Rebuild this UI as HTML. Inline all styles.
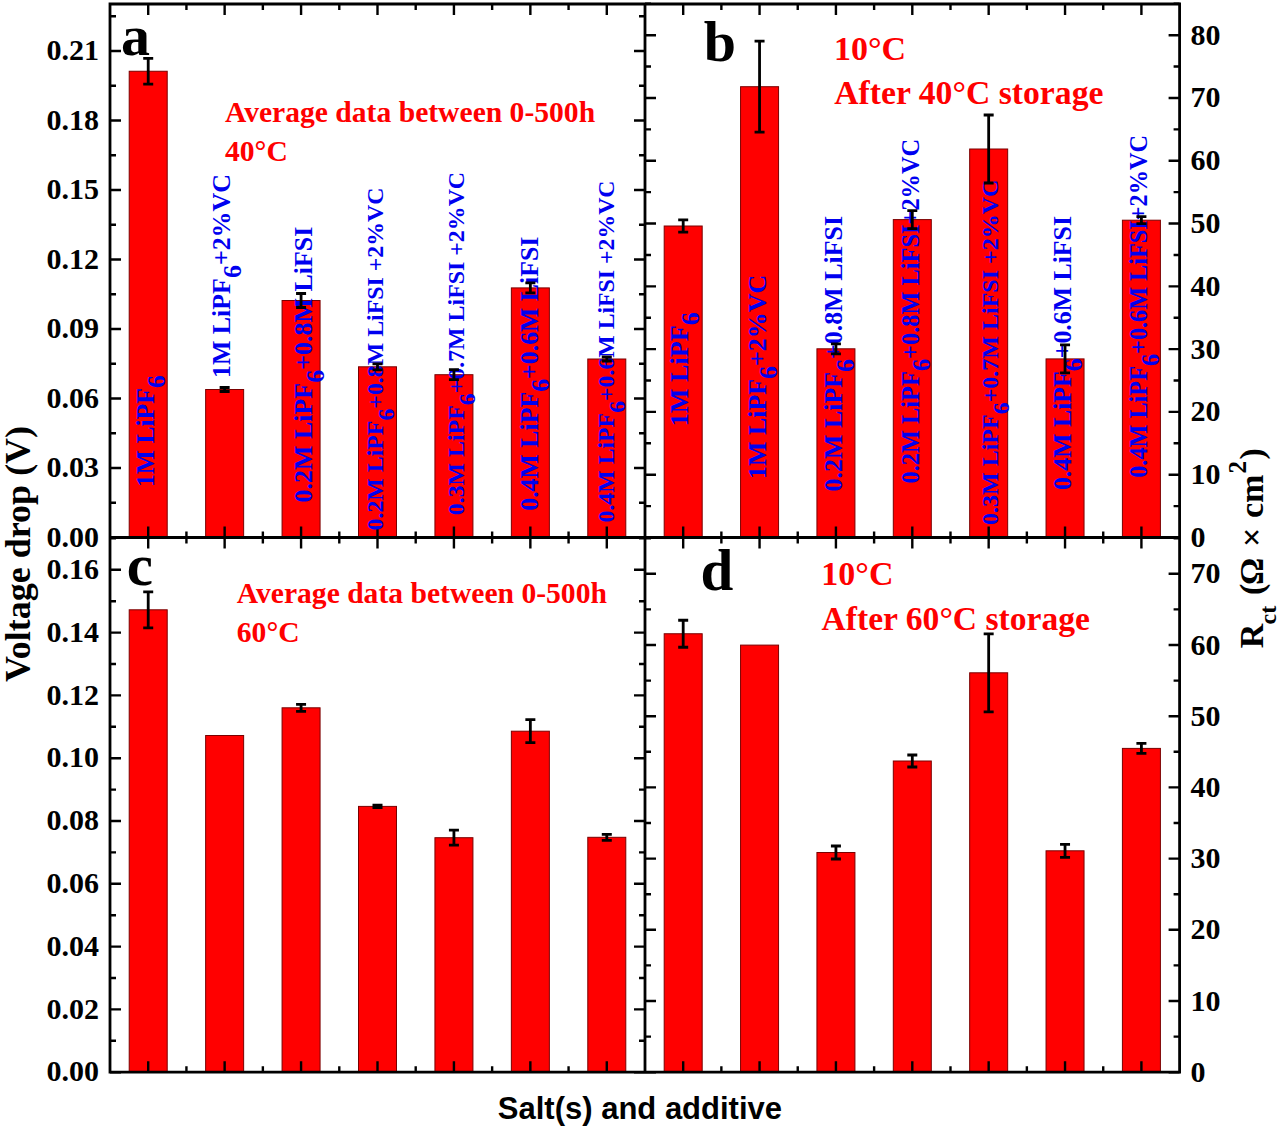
<!DOCTYPE html>
<html><head><meta charset="utf-8"><style>
html,body{margin:0;padding:0;background:#fff;}
svg{display:block;}
</style></head><body>
<svg width="1280" height="1130" viewBox="0 0 1280 1130">
<rect width="1280" height="1130" fill="#fff"/>
<rect x="129.21" y="71.25" width="38.00" height="466.25" fill="#ff0000" stroke="#7a0000" stroke-width="1"/>
<rect x="205.64" y="389.50" width="38.00" height="148.00" fill="#ff0000" stroke="#7a0000" stroke-width="1"/>
<rect x="282.07" y="300.50" width="38.00" height="237.00" fill="#ff0000" stroke="#7a0000" stroke-width="1"/>
<rect x="358.50" y="366.80" width="38.00" height="170.70" fill="#ff0000" stroke="#7a0000" stroke-width="1"/>
<rect x="434.93" y="374.70" width="38.00" height="162.80" fill="#ff0000" stroke="#7a0000" stroke-width="1"/>
<rect x="511.36" y="287.90" width="38.00" height="249.60" fill="#ff0000" stroke="#7a0000" stroke-width="1"/>
<rect x="587.79" y="359.00" width="38.00" height="178.50" fill="#ff0000" stroke="#7a0000" stroke-width="1"/>
<rect x="664.19" y="226.00" width="38.00" height="311.50" fill="#ff0000" stroke="#7a0000" stroke-width="1"/>
<rect x="740.56" y="86.70" width="38.00" height="450.80" fill="#ff0000" stroke="#7a0000" stroke-width="1"/>
<rect x="816.93" y="348.80" width="38.00" height="188.70" fill="#ff0000" stroke="#7a0000" stroke-width="1"/>
<rect x="893.30" y="219.60" width="38.00" height="317.90" fill="#ff0000" stroke="#7a0000" stroke-width="1"/>
<rect x="969.67" y="149.00" width="38.00" height="388.50" fill="#ff0000" stroke="#7a0000" stroke-width="1"/>
<rect x="1046.04" y="358.90" width="38.00" height="178.60" fill="#ff0000" stroke="#7a0000" stroke-width="1"/>
<rect x="1122.41" y="220.20" width="38.00" height="317.30" fill="#ff0000" stroke="#7a0000" stroke-width="1"/>
<rect x="129.21" y="609.80" width="38.00" height="462.40" fill="#ff0000" stroke="#7a0000" stroke-width="1"/>
<rect x="205.64" y="735.50" width="38.00" height="336.70" fill="#ff0000" stroke="#7a0000" stroke-width="1"/>
<rect x="282.07" y="707.80" width="38.00" height="364.40" fill="#ff0000" stroke="#7a0000" stroke-width="1"/>
<rect x="358.50" y="806.40" width="38.00" height="265.80" fill="#ff0000" stroke="#7a0000" stroke-width="1"/>
<rect x="434.93" y="837.70" width="38.00" height="234.50" fill="#ff0000" stroke="#7a0000" stroke-width="1"/>
<rect x="511.36" y="731.20" width="38.00" height="341.00" fill="#ff0000" stroke="#7a0000" stroke-width="1"/>
<rect x="587.79" y="837.30" width="38.00" height="234.90" fill="#ff0000" stroke="#7a0000" stroke-width="1"/>
<rect x="664.19" y="633.75" width="38.00" height="438.45" fill="#ff0000" stroke="#7a0000" stroke-width="1"/>
<rect x="740.56" y="645.10" width="38.00" height="427.10" fill="#ff0000" stroke="#7a0000" stroke-width="1"/>
<rect x="816.93" y="852.50" width="38.00" height="219.70" fill="#ff0000" stroke="#7a0000" stroke-width="1"/>
<rect x="893.30" y="761.00" width="38.00" height="311.20" fill="#ff0000" stroke="#7a0000" stroke-width="1"/>
<rect x="969.67" y="672.80" width="38.00" height="399.40" fill="#ff0000" stroke="#7a0000" stroke-width="1"/>
<rect x="1046.04" y="850.80" width="38.00" height="221.40" fill="#ff0000" stroke="#7a0000" stroke-width="1"/>
<rect x="1122.41" y="748.40" width="38.00" height="323.80" fill="#ff0000" stroke="#7a0000" stroke-width="1"/>
<path d="M148.21 4.00V15.00M186.43 4.00V10.00M148.21 537.50V526.50M186.43 537.50V531.50M148.21 537.50V548.50M186.43 537.50V543.50M148.21 1072.20V1061.20M186.43 1072.20V1066.20M224.64 4.00V15.00M262.86 4.00V10.00M224.64 537.50V526.50M262.86 537.50V531.50M224.64 537.50V548.50M262.86 537.50V543.50M224.64 1072.20V1061.20M262.86 1072.20V1066.20M301.07 4.00V15.00M339.29 4.00V10.00M301.07 537.50V526.50M339.29 537.50V531.50M301.07 537.50V548.50M339.29 537.50V543.50M301.07 1072.20V1061.20M339.29 1072.20V1066.20M377.50 4.00V15.00M415.71 4.00V10.00M377.50 537.50V526.50M415.71 537.50V531.50M377.50 537.50V548.50M415.71 537.50V543.50M377.50 1072.20V1061.20M415.71 1072.20V1066.20M453.93 4.00V15.00M492.14 4.00V10.00M453.93 537.50V526.50M492.14 537.50V531.50M453.93 537.50V548.50M492.14 537.50V543.50M453.93 1072.20V1061.20M492.14 1072.20V1066.20M530.36 4.00V15.00M568.57 4.00V10.00M530.36 537.50V526.50M568.57 537.50V531.50M530.36 537.50V548.50M568.57 537.50V543.50M530.36 1072.20V1061.20M568.57 1072.20V1066.20M606.79 4.00V15.00M606.79 537.50V526.50M606.79 537.50V548.50M606.79 1072.20V1061.20M683.19 4.00V15.00M721.37 4.00V10.00M683.19 537.50V526.50M721.37 537.50V531.50M683.19 537.50V548.50M721.37 537.50V543.50M683.19 1072.20V1061.20M721.37 1072.20V1066.20M759.56 4.00V15.00M797.74 4.00V10.00M759.56 537.50V526.50M797.74 537.50V531.50M759.56 537.50V548.50M797.74 537.50V543.50M759.56 1072.20V1061.20M797.74 1072.20V1066.20M835.93 4.00V15.00M874.11 4.00V10.00M835.93 537.50V526.50M874.11 537.50V531.50M835.93 537.50V548.50M874.11 537.50V543.50M835.93 1072.20V1061.20M874.11 1072.20V1066.20M912.30 4.00V15.00M950.49 4.00V10.00M912.30 537.50V526.50M950.49 537.50V531.50M912.30 537.50V548.50M950.49 537.50V543.50M912.30 1072.20V1061.20M950.49 1072.20V1066.20M988.67 4.00V15.00M1026.86 4.00V10.00M988.67 537.50V526.50M1026.86 537.50V531.50M988.67 537.50V548.50M1026.86 537.50V543.50M988.67 1072.20V1061.20M1026.86 1072.20V1066.20M1065.04 4.00V15.00M1103.23 4.00V10.00M1065.04 537.50V526.50M1103.23 537.50V531.50M1065.04 537.50V548.50M1103.23 537.50V543.50M1065.04 1072.20V1061.20M1103.23 1072.20V1066.20M1141.41 4.00V15.00M1141.41 537.50V526.50M1141.41 537.50V548.50M1141.41 1072.20V1061.20M110.00 537.50H121.00M110.00 502.75H116.00M110.00 467.99H121.00M110.00 433.24H116.00M110.00 398.48H121.00M110.00 363.73H116.00M110.00 328.97H121.00M110.00 294.22H116.00M110.00 259.46H121.00M110.00 224.70H116.00M110.00 189.95H121.00M110.00 155.20H116.00M110.00 120.44H121.00M110.00 85.69H116.00M110.00 50.93H121.00M110.00 16.18H116.00M645.00 537.50H634.00M645.00 502.75H639.00M645.00 467.99H634.00M645.00 433.24H639.00M645.00 398.48H634.00M645.00 363.73H639.00M645.00 328.97H634.00M645.00 294.22H639.00M645.00 259.46H634.00M645.00 224.70H639.00M645.00 189.95H634.00M645.00 155.20H639.00M645.00 120.44H634.00M645.00 85.69H639.00M645.00 50.93H634.00M645.00 16.18H639.00M645.00 537.50H656.00M645.00 506.11H651.00M645.00 474.71H656.00M645.00 443.31H651.00M645.00 411.92H656.00M645.00 380.52H651.00M645.00 349.13H656.00M645.00 317.74H651.00M645.00 286.34H656.00M645.00 254.94H651.00M645.00 223.55H656.00M645.00 192.16H651.00M645.00 160.76H656.00M645.00 129.37H651.00M645.00 97.97H656.00M645.00 66.57H651.00M645.00 35.18H656.00M645.00 3.78H651.00M1179.60 537.50H1168.60M1179.60 506.11H1173.60M1179.60 474.71H1168.60M1179.60 443.31H1173.60M1179.60 411.92H1168.60M1179.60 380.52H1173.60M1179.60 349.13H1168.60M1179.60 317.74H1173.60M1179.60 286.34H1168.60M1179.60 254.94H1173.60M1179.60 223.55H1168.60M1179.60 192.16H1173.60M1179.60 160.76H1168.60M1179.60 129.37H1173.60M1179.60 97.97H1168.60M1179.60 66.57H1173.60M1179.60 35.18H1168.60M1179.60 3.78H1173.60M110.00 1072.20H121.00M110.00 1040.80H116.00M110.00 1009.40H121.00M110.00 978.00H116.00M110.00 946.60H121.00M110.00 915.20H116.00M110.00 883.80H121.00M110.00 852.40H116.00M110.00 821.00H121.00M110.00 789.60H116.00M110.00 758.20H121.00M110.00 726.80H116.00M110.00 695.40H121.00M110.00 664.00H116.00M110.00 632.60H121.00M110.00 601.20H116.00M110.00 569.80H121.00M110.00 538.40H116.00M645.00 1072.20H634.00M645.00 1040.80H639.00M645.00 1009.40H634.00M645.00 978.00H639.00M645.00 946.60H634.00M645.00 915.20H639.00M645.00 883.80H634.00M645.00 852.40H639.00M645.00 821.00H634.00M645.00 789.60H639.00M645.00 758.20H634.00M645.00 726.80H639.00M645.00 695.40H634.00M645.00 664.00H639.00M645.00 632.60H634.00M645.00 601.20H639.00M645.00 569.80H634.00M645.00 538.40H639.00M645.00 1072.20H656.00M645.00 1036.60H651.00M645.00 1001.00H656.00M645.00 965.40H651.00M645.00 929.80H656.00M645.00 894.20H651.00M645.00 858.60H656.00M645.00 823.00H651.00M645.00 787.40H656.00M645.00 751.80H651.00M645.00 716.20H656.00M645.00 680.60H651.00M645.00 645.00H656.00M645.00 609.40H651.00M645.00 573.80H656.00M645.00 538.20H651.00M1179.60 1072.20H1168.60M1179.60 1036.60H1173.60M1179.60 1001.00H1168.60M1179.60 965.40H1173.60M1179.60 929.80H1168.60M1179.60 894.20H1173.60M1179.60 858.60H1168.60M1179.60 823.00H1173.60M1179.60 787.40H1168.60M1179.60 751.80H1173.60M1179.60 716.20H1168.60M1179.60 680.60H1173.60M1179.60 645.00H1168.60M1179.60 609.40H1173.60M1179.60 573.80H1168.60M1179.60 538.20H1173.60" stroke="#000" stroke-width="2.4" fill="none"/>
<path d="M110.0 4.0H1179.6V1072.2H110.0Z M645.0 4.0V1072.2 M110.0 537.5H1179.6" stroke="#000" stroke-width="2.8" fill="none" stroke-linecap="square"/>
<text x="99" y="546.60" font-size="30" font-family="Liberation Serif" font-weight="bold" text-anchor="end">0.00</text>
<text x="99" y="477.09" font-size="30" font-family="Liberation Serif" font-weight="bold" text-anchor="end">0.03</text>
<text x="99" y="407.58" font-size="30" font-family="Liberation Serif" font-weight="bold" text-anchor="end">0.06</text>
<text x="99" y="338.07" font-size="30" font-family="Liberation Serif" font-weight="bold" text-anchor="end">0.09</text>
<text x="99" y="268.56" font-size="30" font-family="Liberation Serif" font-weight="bold" text-anchor="end">0.12</text>
<text x="99" y="199.05" font-size="30" font-family="Liberation Serif" font-weight="bold" text-anchor="end">0.15</text>
<text x="99" y="129.54" font-size="30" font-family="Liberation Serif" font-weight="bold" text-anchor="end">0.18</text>
<text x="99" y="60.03" font-size="30" font-family="Liberation Serif" font-weight="bold" text-anchor="end">0.21</text>
<text x="99" y="1081.30" font-size="30" font-family="Liberation Serif" font-weight="bold" text-anchor="end">0.00</text>
<text x="99" y="1018.50" font-size="30" font-family="Liberation Serif" font-weight="bold" text-anchor="end">0.02</text>
<text x="99" y="955.70" font-size="30" font-family="Liberation Serif" font-weight="bold" text-anchor="end">0.04</text>
<text x="99" y="892.90" font-size="30" font-family="Liberation Serif" font-weight="bold" text-anchor="end">0.06</text>
<text x="99" y="830.10" font-size="30" font-family="Liberation Serif" font-weight="bold" text-anchor="end">0.08</text>
<text x="99" y="767.30" font-size="30" font-family="Liberation Serif" font-weight="bold" text-anchor="end">0.10</text>
<text x="99" y="704.50" font-size="30" font-family="Liberation Serif" font-weight="bold" text-anchor="end">0.12</text>
<text x="99" y="641.70" font-size="30" font-family="Liberation Serif" font-weight="bold" text-anchor="end">0.14</text>
<text x="99" y="578.90" font-size="30" font-family="Liberation Serif" font-weight="bold" text-anchor="end">0.16</text>
<text x="1190.5" y="547.00" font-size="30" font-family="Liberation Serif" font-weight="bold">0</text>
<text x="1190.5" y="484.21" font-size="30" font-family="Liberation Serif" font-weight="bold">10</text>
<text x="1190.5" y="421.42" font-size="30" font-family="Liberation Serif" font-weight="bold">20</text>
<text x="1190.5" y="358.63" font-size="30" font-family="Liberation Serif" font-weight="bold">30</text>
<text x="1190.5" y="295.84" font-size="30" font-family="Liberation Serif" font-weight="bold">40</text>
<text x="1190.5" y="233.05" font-size="30" font-family="Liberation Serif" font-weight="bold">50</text>
<text x="1190.5" y="170.26" font-size="30" font-family="Liberation Serif" font-weight="bold">60</text>
<text x="1190.5" y="107.47" font-size="30" font-family="Liberation Serif" font-weight="bold">70</text>
<text x="1190.5" y="44.68" font-size="30" font-family="Liberation Serif" font-weight="bold">80</text>
<text x="1190.5" y="1081.70" font-size="30" font-family="Liberation Serif" font-weight="bold">0</text>
<text x="1190.5" y="1010.50" font-size="30" font-family="Liberation Serif" font-weight="bold">10</text>
<text x="1190.5" y="939.30" font-size="30" font-family="Liberation Serif" font-weight="bold">20</text>
<text x="1190.5" y="868.10" font-size="30" font-family="Liberation Serif" font-weight="bold">30</text>
<text x="1190.5" y="796.90" font-size="30" font-family="Liberation Serif" font-weight="bold">40</text>
<text x="1190.5" y="725.70" font-size="30" font-family="Liberation Serif" font-weight="bold">50</text>
<text x="1190.5" y="654.50" font-size="30" font-family="Liberation Serif" font-weight="bold">60</text>
<text x="1190.5" y="583.30" font-size="30" font-family="Liberation Serif" font-weight="bold">70</text>
<text x="120.9" y="54.8" font-size="58" font-family="Liberation Serif" font-weight="bold">a</text>
<text x="703.8" y="60.9" font-size="58" font-family="Liberation Serif" font-weight="bold">b</text>
<text x="126.8" y="584.5" font-size="59" font-family="Liberation Serif" font-weight="bold">c</text>
<text x="700.6" y="590.1" font-size="59" font-family="Liberation Serif" font-weight="bold">d</text>
<text x="225" y="122.2" font-size="29.6" font-family="Liberation Serif" font-weight="bold" fill="#ff0000">Average data between 0-500h</text>
<text x="225" y="161" font-size="29.6" font-family="Liberation Serif" font-weight="bold" fill="#ff0000">40°C</text>
<text x="834" y="59.8" font-size="34" font-family="Liberation Serif" font-weight="bold" fill="#ff0000">10°C</text>
<text x="834.3" y="103.9" font-size="33.7" font-family="Liberation Serif" font-weight="bold" fill="#ff0000">After 40°C storage</text>
<text x="236.8" y="602.8" font-size="29.6" font-family="Liberation Serif" font-weight="bold" fill="#ff0000">Average data between 0-500h</text>
<text x="236.8" y="642.1" font-size="29.6" font-family="Liberation Serif" font-weight="bold" fill="#ff0000">60°C</text>
<text x="821.3" y="585.4" font-size="34" font-family="Liberation Serif" font-weight="bold" fill="#ff0000">10°C</text>
<text x="821.6" y="630.2" font-size="33.6" font-family="Liberation Serif" font-weight="bold" fill="#ff0000">After 60°C storage</text>
<text transform="translate(30 681.9) rotate(-90)" font-size="36" font-family="Liberation Serif" font-weight="bold">Voltage drop (V)</text>
<text x="497.8" y="1119" font-size="31" font-family="Liberation Sans" font-weight="bold">Salt(s) and additive</text>
<g transform="translate(1262.5 648.3) rotate(-90)" font-family="Liberation Serif" font-weight="bold"><text x="0" y="0" font-size="34">R</text><text x="23.9" y="13" font-size="24">ct</text><text x="53.3" y="0" font-size="34">(</text><text x="63.2" y="0" font-size="34">Ω</text><text x="101.4" y="0" font-size="34">×</text><text x="130.3" y="0" font-size="34">cm</text><text x="174.8" y="-16.3" font-size="25">2</text><text x="188.7" y="0" font-size="34">)</text></g>
<text transform="translate(153.80 487.05) rotate(-90)" font-size="25.65" font-family="Liberation Serif" font-weight="bold" fill="#0000f0">1M LiPF<tspan dy="11.2">6</tspan></text>
<text transform="translate(229.80 378.07) rotate(-90)" font-size="25.92" font-family="Liberation Serif" font-weight="bold" fill="#0000f0">1M LiPF<tspan dy="11.2">6</tspan><tspan dy="-11.2">+2%VC</tspan></text>
<text transform="translate(312.30 502.54) rotate(-90)" font-size="25.97" font-family="Liberation Serif" font-weight="bold" fill="#0000f0">0.2M LiPF<tspan dy="11.2">6</tspan><tspan dy="-11.2">+0.8M LiFSI</tspan></text>
<text transform="translate(382.80 530.45) rotate(-90)" font-size="23.84" font-family="Liberation Serif" font-weight="bold" fill="#0000f0">0.2M LiPF<tspan dy="11.2">6</tspan><tspan dy="-11.2">+0.8M LiFSI +2%VC</tspan></text>
<text transform="translate(463.80 515.25) rotate(-90)" font-size="23.87" font-family="Liberation Serif" font-weight="bold" fill="#0000f0">0.3M LiPF<tspan dy="11.2">6</tspan><tspan dy="-11.2">+0.7M LiFSI +2%VC</tspan></text>
<text transform="translate(537.80 510.73) rotate(-90)" font-size="25.80" font-family="Liberation Serif" font-weight="bold" fill="#0000f0">0.4M LiPF<tspan dy="11.2">6</tspan><tspan dy="-11.2">+0.6M LiFSI</tspan></text>
<text transform="translate(613.80 522.45) rotate(-90)" font-size="23.78" font-family="Liberation Serif" font-weight="bold" fill="#0000f0">0.4M LiPF<tspan dy="11.2">6</tspan><tspan dy="-11.2">+0.6M LiFSI +2%VC</tspan></text>
<text transform="translate(687.80 426.30) rotate(-90)" font-size="26.21" font-family="Liberation Serif" font-weight="bold" fill="#0000f0">1M LiPF<tspan dy="11.2">6</tspan></text>
<text transform="translate(765.80 478.97) rotate(-90)" font-size="25.93" font-family="Liberation Serif" font-weight="bold" fill="#0000f0">1M LiPF<tspan dy="11.2">6</tspan><tspan dy="-11.2">+2%VC</tspan></text>
<text transform="translate(842.30 491.44) rotate(-90)" font-size="25.93" font-family="Liberation Serif" font-weight="bold" fill="#0000f0">0.2M LiPF<tspan dy="11.2">6</tspan><tspan dy="-11.2">+0.8M LiFSI</tspan></text>
<text transform="translate(918.80 483.48) rotate(-90)" font-size="24.38" font-family="Liberation Serif" font-weight="bold" fill="#0000f0">0.2M LiPF<tspan dy="11.2">6</tspan><tspan dy="-11.2">+0.8M LiFSI+2%VC</tspan></text>
<text transform="translate(997.80 524.96) rotate(-90)" font-size="24.00" font-family="Liberation Serif" font-weight="bold" fill="#0000f0">0.3M LiPF<tspan dy="11.2">6</tspan><tspan dy="-11.2">+0.7M LiFSI +2%VC</tspan></text>
<text transform="translate(1070.80 490.03) rotate(-90)" font-size="25.79" font-family="Liberation Serif" font-weight="bold" fill="#0000f0">0.4M LiPF<tspan dy="11.2">6</tspan><tspan dy="-11.2">+0.6M LiFSI</tspan></text>
<text transform="translate(1147.30 477.77) rotate(-90)" font-size="24.24" font-family="Liberation Serif" font-weight="bold" fill="#0000f0">0.4M LiPF<tspan dy="11.2">6</tspan><tspan dy="-11.2">+0.6M LiFSI+2%VC</tspan></text>
<path d="M148.21 58.35V84.15M143.21 58.35H153.21M143.21 84.15H153.21" stroke="#000" stroke-width="2.8" fill="none"/>
<path d="M224.64 387.50V391.50M219.64 387.50H229.64M219.64 391.50H229.64" stroke="#000" stroke-width="2.8" fill="none"/>
<path d="M301.07 293.50V307.50M296.07 293.50H306.07M296.07 307.50H306.07" stroke="#000" stroke-width="2.8" fill="none"/>
<path d="M377.50 363.80V369.80M372.50 363.80H382.50M372.50 369.80H382.50" stroke="#000" stroke-width="2.8" fill="none"/>
<path d="M453.93 369.70V379.70M448.93 369.70H458.93M448.93 379.70H458.93" stroke="#000" stroke-width="2.8" fill="none"/>
<path d="M530.36 282.90V292.90M525.36 282.90H535.36M525.36 292.90H535.36" stroke="#000" stroke-width="2.8" fill="none"/>
<path d="M606.79 357.00V361.00M601.79 357.00H611.79M601.79 361.00H611.79" stroke="#000" stroke-width="2.8" fill="none"/>
<path d="M683.19 219.80V232.20M678.19 219.80H688.19M678.19 232.20H688.19" stroke="#000" stroke-width="2.8" fill="none"/>
<path d="M759.56 41.20V132.20M754.56 41.20H764.56M754.56 132.20H764.56" stroke="#000" stroke-width="2.8" fill="none"/>
<path d="M835.93 343.80V353.80M830.93 343.80H840.93M830.93 353.80H840.93" stroke="#000" stroke-width="2.8" fill="none"/>
<path d="M912.30 210.60V228.60M907.30 210.60H917.30M907.30 228.60H917.30" stroke="#000" stroke-width="2.8" fill="none"/>
<path d="M988.67 115.00V183.00M983.67 115.00H993.67M983.67 183.00H993.67" stroke="#000" stroke-width="2.8" fill="none"/>
<path d="M1065.04 344.90V372.90M1060.04 344.90H1070.04M1060.04 372.90H1070.04" stroke="#000" stroke-width="2.8" fill="none"/>
<path d="M1141.41 216.70V223.70M1136.41 216.70H1146.41M1136.41 223.70H1146.41" stroke="#000" stroke-width="2.8" fill="none"/>
<path d="M148.21 591.80V627.80M143.21 591.80H153.21M143.21 627.80H153.21" stroke="#000" stroke-width="2.8" fill="none"/>
<path d="M301.07 704.30V711.30M296.07 704.30H306.07M296.07 711.30H306.07" stroke="#000" stroke-width="2.8" fill="none"/>
<path d="M377.50 805.20V807.60M372.50 805.20H382.50M372.50 807.60H382.50" stroke="#000" stroke-width="2.8" fill="none"/>
<path d="M453.93 830.20V845.20M448.93 830.20H458.93M448.93 845.20H458.93" stroke="#000" stroke-width="2.8" fill="none"/>
<path d="M530.36 719.70V742.70M525.36 719.70H535.36M525.36 742.70H535.36" stroke="#000" stroke-width="2.8" fill="none"/>
<path d="M606.79 834.30V840.30M601.79 834.30H611.79M601.79 840.30H611.79" stroke="#000" stroke-width="2.8" fill="none"/>
<path d="M683.19 620.25V647.25M678.19 620.25H688.19M678.19 647.25H688.19" stroke="#000" stroke-width="2.8" fill="none"/>
<path d="M835.93 846.00V859.00M830.93 846.00H840.93M830.93 859.00H840.93" stroke="#000" stroke-width="2.8" fill="none"/>
<path d="M912.30 755.00V767.00M907.30 755.00H917.30M907.30 767.00H917.30" stroke="#000" stroke-width="2.8" fill="none"/>
<path d="M988.67 633.80V711.80M983.67 633.80H993.67M983.67 711.80H993.67" stroke="#000" stroke-width="2.8" fill="none"/>
<path d="M1065.04 844.30V857.30M1060.04 844.30H1070.04M1060.04 857.30H1070.04" stroke="#000" stroke-width="2.8" fill="none"/>
<path d="M1141.41 743.40V753.40M1136.41 743.40H1146.41M1136.41 753.40H1146.41" stroke="#000" stroke-width="2.8" fill="none"/>
</svg>
</body></html>
